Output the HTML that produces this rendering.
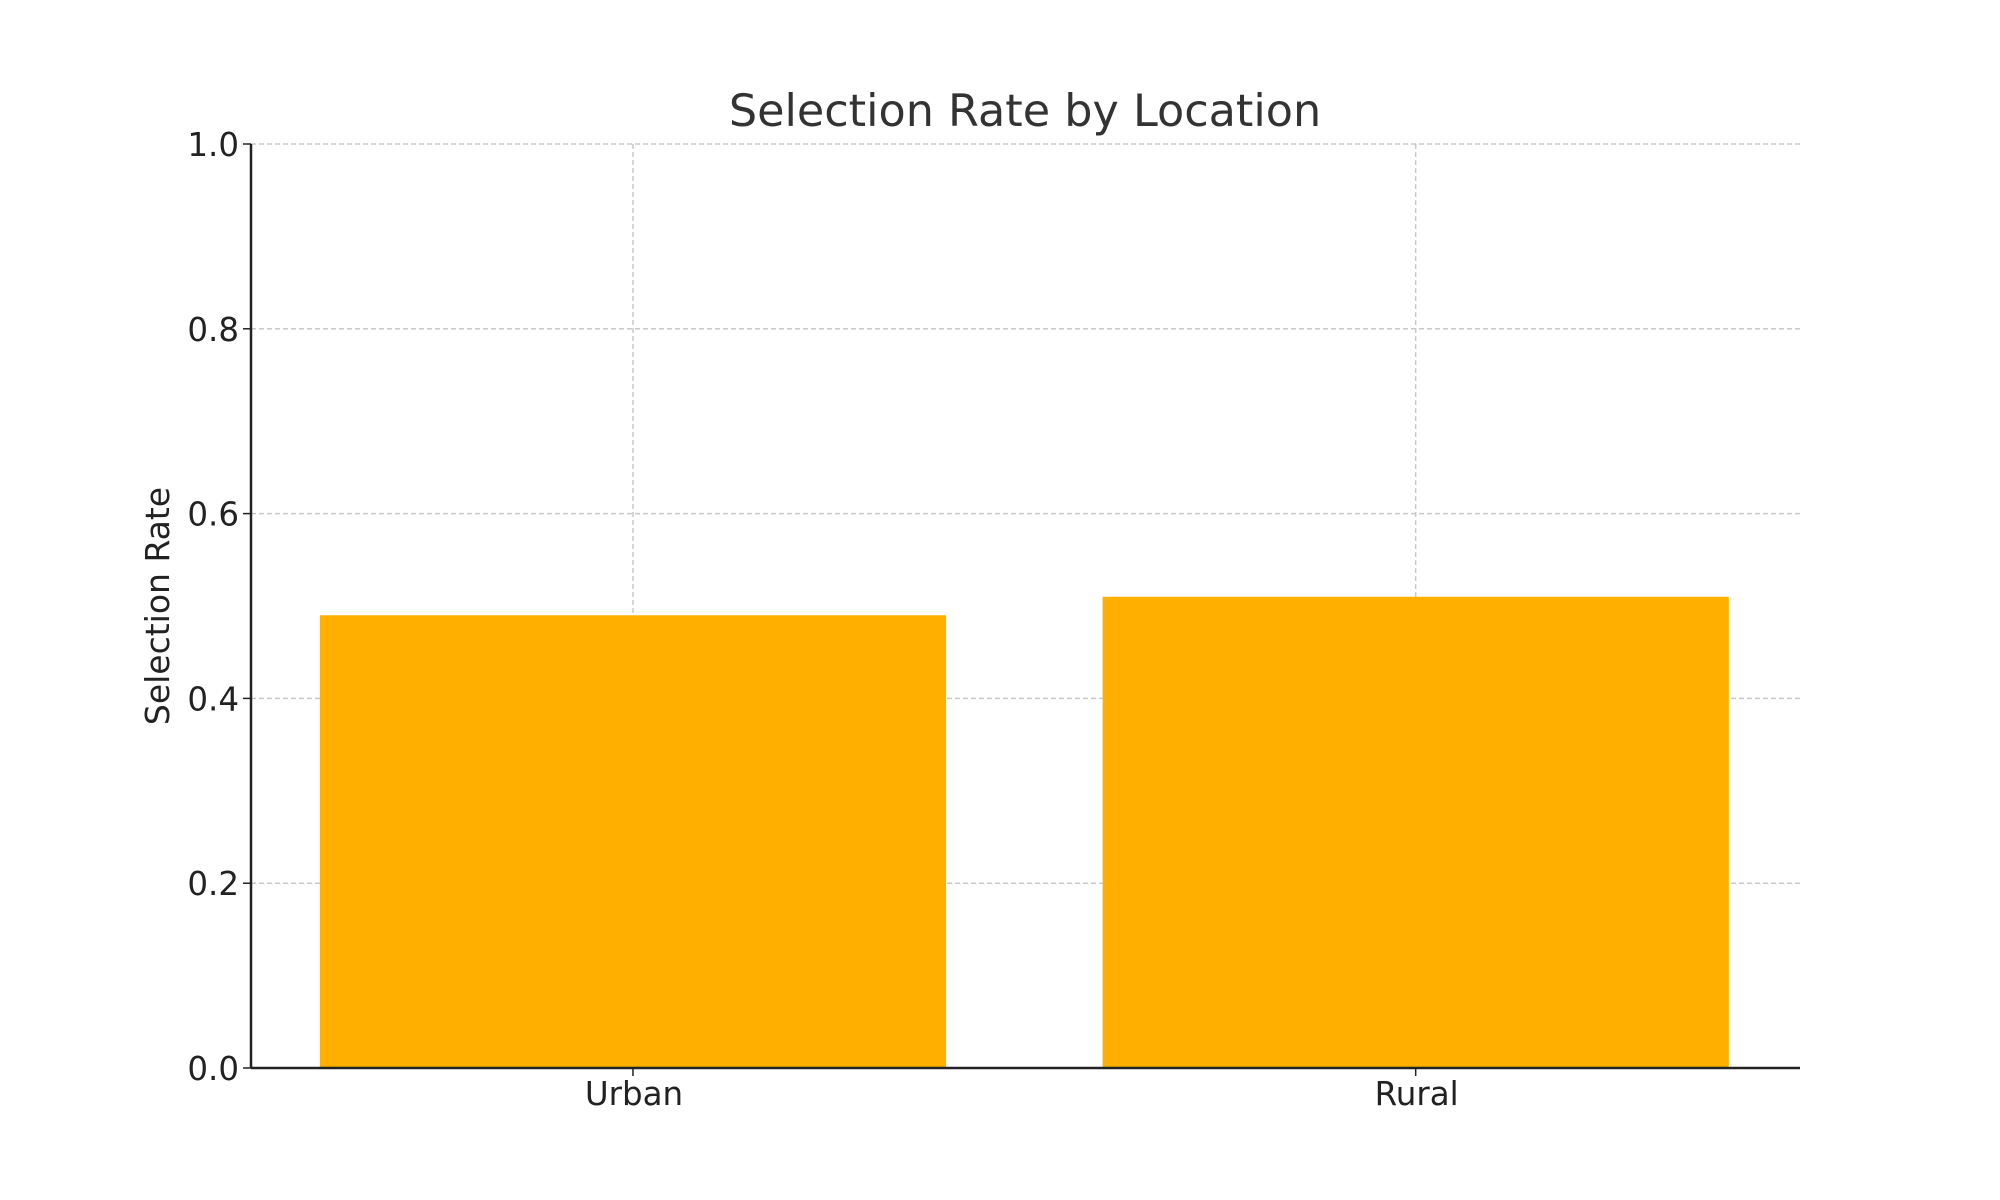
<!DOCTYPE html>
<html><head><meta charset="utf-8"><style>
body{margin:0;background:#fff;}
svg{display:block;font-family:"DejaVu Sans","Liberation Sans",sans-serif;}
</style></head><body>
<svg id="chart" width="2000" height="1200" viewBox="0 0 2000 1200" xmlns="http://www.w3.org/2000/svg">
<rect width="2000" height="1200" fill="#fff"/>
<text x="1025" y="126" text-anchor="middle" font-size="44.5" fill="#333">Selection Rate by Location</text>
<text transform="translate(169,606) rotate(-90)" text-anchor="middle" font-size="33" fill="#222">Selection Rate</text>
<g id="grid"></g><g id="bars"></g><g id="axes"></g>
</svg>
<script>
const categories = ["Urban", "Rural"];
const values = [0.49, 0.51];
const yTicks = [0, 0.2, 0.4, 0.6, 0.8, 1.0];
const yTickLabels = ["0.0", "0.2", "0.4", "0.6", "0.8", "1.0"];

const L=251,R=1800,T=144,B=1068;
const xMin=-0.488,xMax=1.491;
const xs=v=>L+(v-xMin)/(xMax-xMin)*(R-L);
const ys=v=>B-(v-0)/(1-0)*(B-T);
const NS="http://www.w3.org/2000/svg";
function mk(tag,attrs,parent){const e=document.createElementNS(NS,tag);for(const k in attrs)e.setAttribute(k,attrs[k]);parent.appendChild(e);return e;}
const grid=document.getElementById('grid'),bars=document.getElementById('bars'),axes=document.getElementById('axes');
yTicks.forEach((t,i)=>{
  const g=mk('line',{x1:L,x2:R,y1:ys(t),y2:ys(t),stroke:'#c8c8c8','stroke-width':1.5,'stroke-dasharray':'5,3'},grid);
  
  
  const tk=mk('line',{x1:L-8,x2:L,y1:ys(t),y2:ys(t),stroke:'#222','stroke-width':1.5},axes);
  
  
  const lb=mk('text',{x:L-12,y:ys(t)+12,'text-anchor':'end','font-size':32.5,fill:'#222'},axes);
  lb.textContent=yTickLabels[i];
  
  
});
categories.forEach((c,i)=>{
  const b=mk('rect',{x:xs(i-0.4),y:ys(values[i]),width:xs(i+0.4)-xs(i-0.4),height:ys(0)-ys(values[i]),fill:'#FFAF00'},bars);
  
  
  const g=mk('line',{x1:xs(i),x2:xs(i),y1:T,y2:B,stroke:'#c8c8c8','stroke-width':1.5,'stroke-dasharray':'5,3'},grid);
  
  
  const tk=mk('line',{x1:xs(i),x2:xs(i),y1:B,y2:B+8,stroke:'#222','stroke-width':1.5},axes);
  
  
  const lb=mk('text',{x:xs(i)+1,y:B+37,'text-anchor':'middle','font-size':32.5,fill:'#222'},axes);
  lb.textContent=c;
  
  
});
const ya=mk('line',{x1:L,x2:L,y1:T,y2:B,stroke:'#222','stroke-width':2.5},axes);


const xa=mk('line',{x1:L,x2:R,y1:B,y2:B,stroke:'#222','stroke-width':2.5},axes);


</script>
</body></html>
